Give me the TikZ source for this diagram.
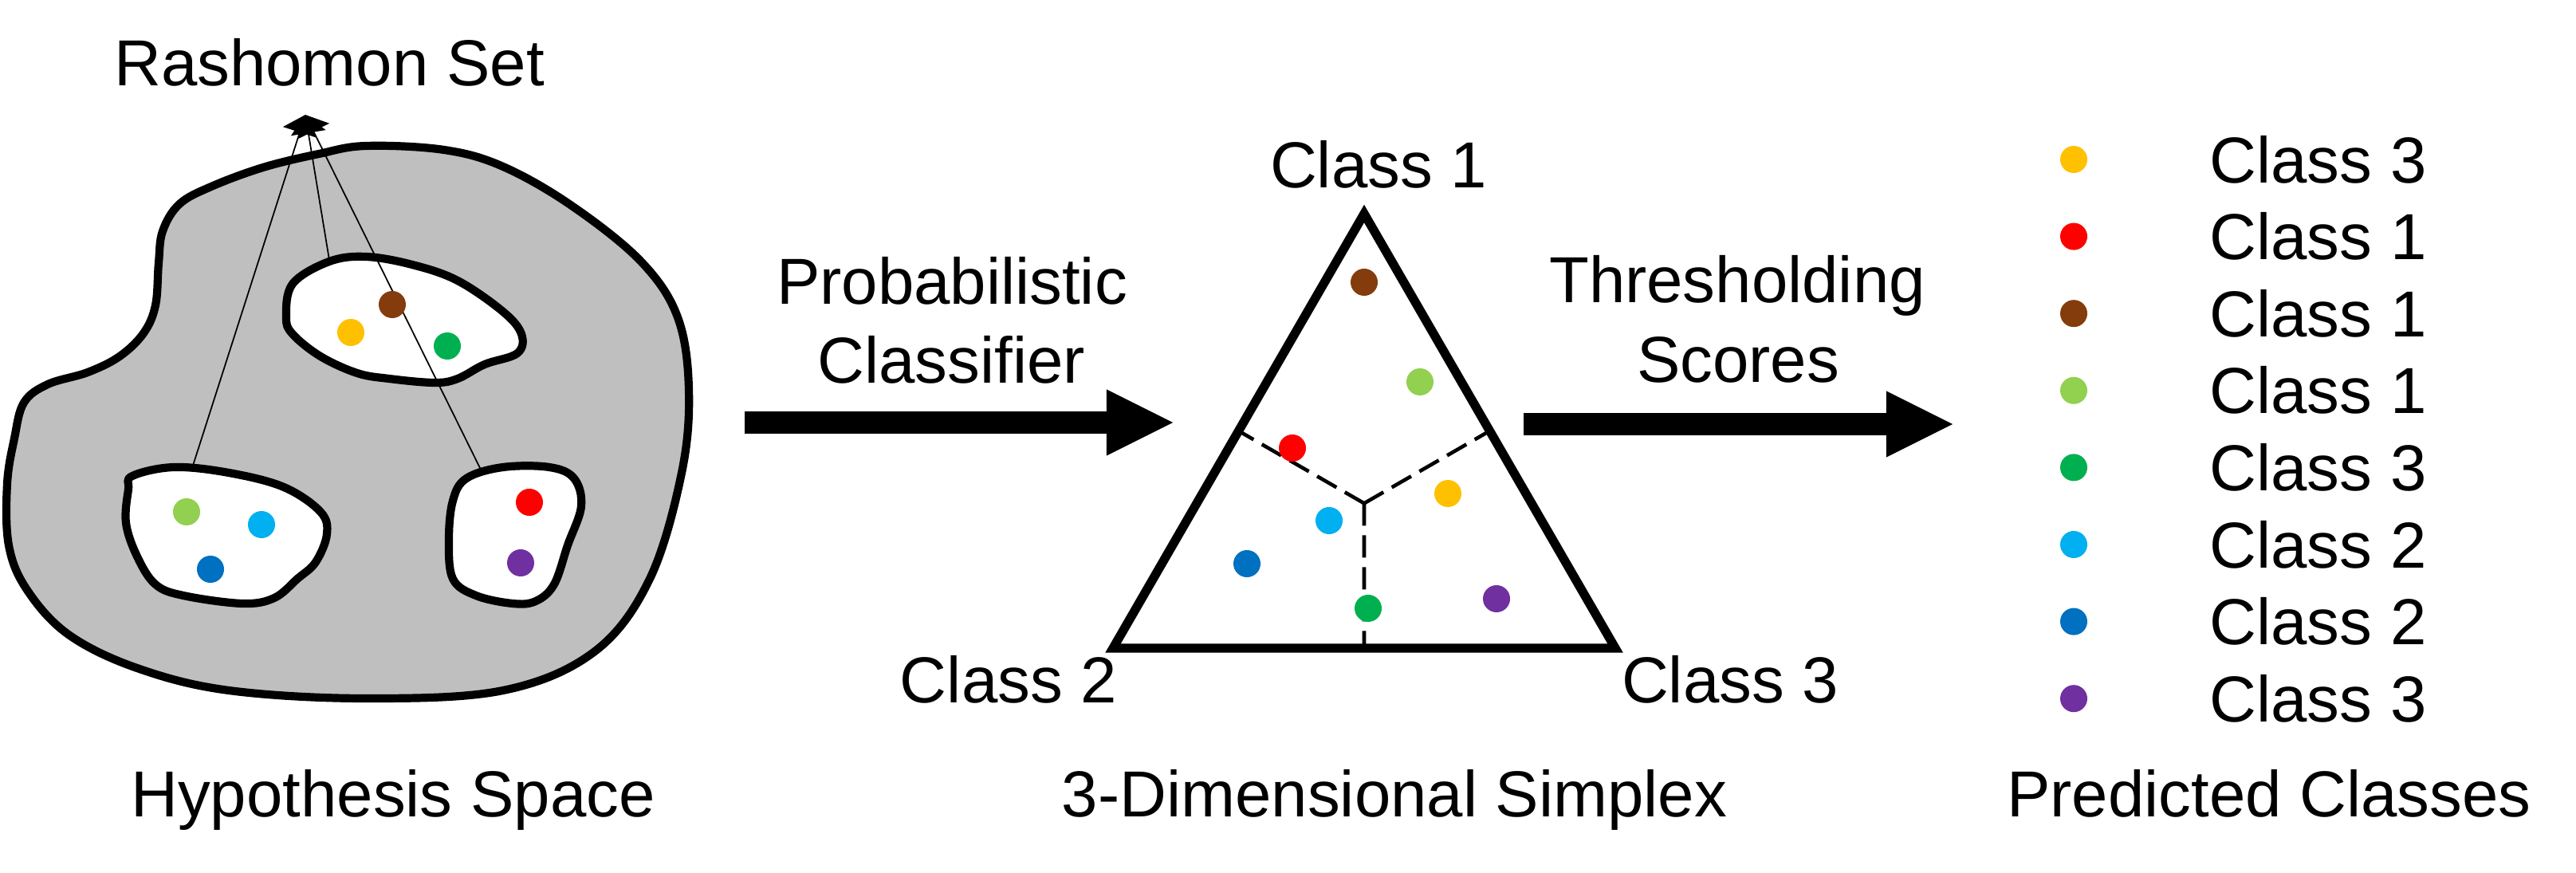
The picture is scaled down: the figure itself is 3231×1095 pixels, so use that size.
\documentclass[tikz,border=0pt]{standalone}
\usepackage{fontspec}
\setmainfont{Liberation Sans}
\usetikzlibrary{arrows.meta,positioning,calc}
\definecolor{dotyellow}{HTML}{FFC000}
\definecolor{dotred}{HTML}{FF0000}
\definecolor{dotbrown}{HTML}{843C0C}
\definecolor{dotlime}{HTML}{92D050}
\definecolor{dotgreen}{HTML}{00B050}
\definecolor{dotcyan}{HTML}{00B0F0}
\definecolor{dotblue}{HTML}{0070C0}
\definecolor{dotpurple}{HTML}{7030A0}
\definecolor{spacegray}{HTML}{BFBFBF}

\begin{document}
\begin{tikzpicture}[x=0.01cm,y=-0.01cm,
  lbl/.style={font=\fontsize{23.2}{28}\selectfont,inner sep=0pt},
  dot/.style={circle,inner sep=0pt,minimum size=0.34cm},
  blob/.style={line width=2.9pt,line join=round},
  link/.style={line width=0.5pt,-{Triangle[length=0.23cm,width=0.44cm]}},
  bigarrow/.style={line width=0.27cm,-{Triangle[length=0.83cm,width=0.83cm,line width=0pt]}},
  simplex/.style={line width=3.2pt},
  region/.style={line width=1.3pt,dash pattern=on 0.28cm off 0.12cm}]
  \useasboundingbox (0,0) rectangle (3231,1095);

  % Hypothesis space
  \draw[blob,fill=spacegray] plot[smooth cycle,tension=0.6] coordinates {
    (459,183) (557,188) (631,209) (717,258) (804,328) (850,398) (864,489)
    (855,593) (815,726) (746,817) (631,866) (459,876) (287,866) (172,838)
    (86,796) (34,740) (11,684) (9,607) (18,550) (30,505) (60,482) (110,467)
    (150,447) (180,418) (195,383) (199,330) (204,290) (225,256) (265,234)
    (330,210) (400,193)};

  % Rashomon set members
  \draw[blob,fill=white] plot[smooth cycle,tension=0.6] coordinates {
    (359,398) (367,356) (413,328) (459,322) (517,332) (574,352) (631,391)
    (654,419) (649,443) (608,457) (574,475) (545,480) (488,475) (448,468)
    (402,447) (367,419)};
  \draw[blob,fill=white] plot[smooth cycle,tension=0.6] coordinates {
    (166,597) (218,586) (287,593) (356,611) (402,642) (410,670) (396,705)
    (373,726) (344,750) (304,757) (230,747) (195,733) (172,698) (158,656)
    (161,614)};
  \draw[blob,fill=white] plot[smooth cycle,tension=0.6] coordinates {
    (568,628) (585,600) (631,586) (689,586) (720,600) (729,635) (712,684)
    (695,733) (672,754) (643,757) (597,747) (568,726) (563,677)};

  \node[lbl,anchor=base] (rset) at (413,108) {Rashomon Set};
  \coordinate (rtip) at (383,144);
  \coordinate (hl) at (241,587);
  \coordinate (ht) at (413,326);
  \coordinate (hr) at (605,593);
  \draw[link] (hl) -- (rtip);
  \draw[link] (ht) -- (rtip);
  \draw[link] (hr) -- (rtip);

  \node[dot,fill=dotyellow] (h1) at (440,417) {};
  \node[dot,fill=dotbrown] (h2) at (492,382) {};
  \node[dot,fill=dotgreen] (h3) at (561,434) {};
  \node[dot,fill=dotlime] (h4) at (234,642) {};
  \node[dot,fill=dotcyan] (h5) at (328,658) {};
  \node[dot,fill=dotblue] (h6) at (264,714) {};
  \node[dot,fill=dotred] (h7) at (664,630) {};
  \node[dot,fill=dotpurple] (h8) at (653,706) {};

  \node[lbl,anchor=base] (hspace) at (493,1024) {Hypothesis Space};

  % Classifier arrow
  \node[lbl,anchor=base] (prob) at (1194,382) {Probabilistic};
  \node[lbl,anchor=base] (clf) at (1193,481) {Classifier};
  \coordinate (a1s) at (934,530);
  \coordinate (a1e) at (1471,530);
  \draw[bigarrow] (a1s) -- (a1e);

  % Simplex
  \coordinate (v1) at (1711,268);
  \coordinate (v2) at (1396,813);
  \coordinate (v3) at (2026,813);
  \coordinate (cen) at (barycentric cs:v1=1,v2=1,v3=1);
  \draw[region] (cen) -- ($(v1)!0.5!(v2)$);
  \draw[region] (cen) -- ($(v1)!0.5!(v3)$);
  \draw[region] (cen) -- ($(v2)!0.5!(v3)$);
  \draw[simplex] (v1) -- (v2) -- (v3) -- cycle;

  \node[lbl,anchor=base] (c1) at (1729,236) {Class 1};
  \node[lbl,anchor=base] (c2) at (1265,881) {Class 2};
  \node[lbl,anchor=base] (c3) at (2170,881) {Class 3};

  \node[dot,fill=dotbrown] (s1) at (1711,354) {};
  \node[dot,fill=dotlime] (s2) at (1781,479) {};
  \node[dot,fill=dotred] (s3) at (1621,562) {};
  \node[dot,fill=dotyellow] (s4) at (1816,619) {};
  \node[dot,fill=dotcyan] (s5) at (1667,653) {};
  \node[dot,fill=dotblue] (s6) at (1564,707) {};
  \node[dot,fill=dotgreen] (s7) at (1716,763) {};
  \node[dot,fill=dotpurple] (s8) at (1877,751) {};

  \node[lbl,anchor=base] (simp) at (1749,1024) {3-Dimensional Simplex};

  % Thresholding arrow
  \node[lbl,anchor=base] (thr) at (2179,380) {Thresholding};
  \node[lbl,anchor=base] (scr) at (2180,480) {Scores};
  \coordinate (a2s) at (1911,532);
  \coordinate (a2e) at (2449,532);
  \draw[bigarrow] (a2s) -- (a2e);

  % Predicted classes
  \foreach \col/\k [count=\i] in {dotyellow/3,dotred/1,dotbrown/1,dotlime/1,dotgreen/3,dotcyan/2,dotblue/2,dotpurple/3} {
    \node[dot,fill=\col] (p\i) at (2601,{200+96.6*(\i-1)}) {};
    \node[lbl,right=1.52cm of p\i] (pc\i) {Class \k};
  }
  \node[lbl,anchor=base] (pred) at (2846,1024) {Predicted Classes};
\end{tikzpicture}
\end{document}
